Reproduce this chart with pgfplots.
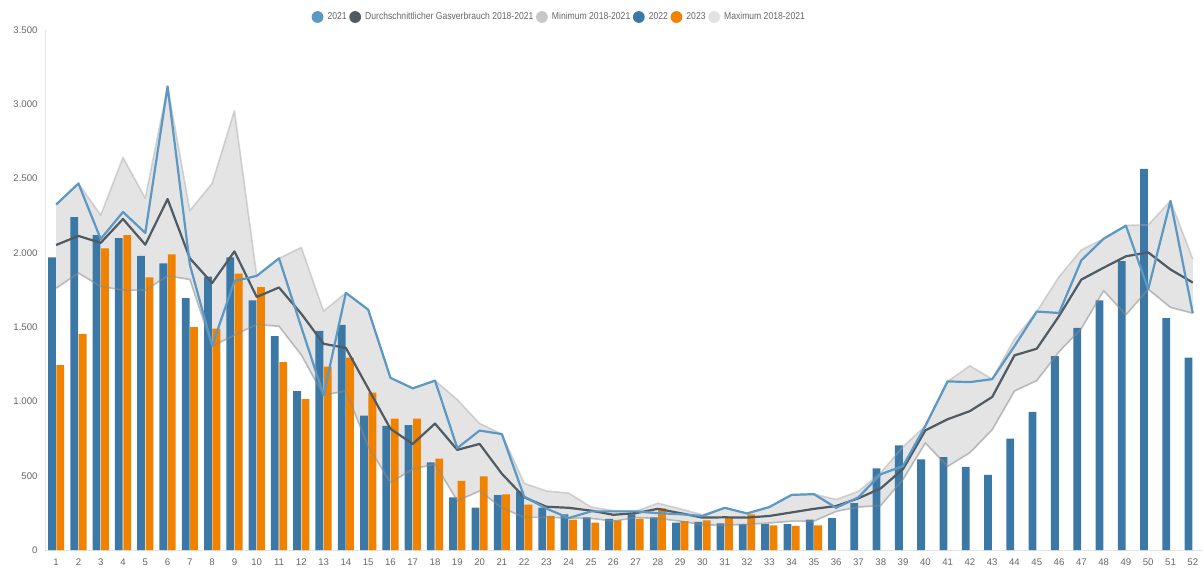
\documentclass[border=0pt]{standalone}
\usepackage{pgfplots}
\pgfplotsset{compat=1.18}
\usepackage{pgfplotstable}
\usepackage{fontspec}
\setmainfont{Liberation Sans}
\newfontfamily\narrowfont[FakeStretch=0.86]{Liberation Sans}
\definecolor{cBlue}{HTML}{3C78A6}
\definecolor{cOrange}{HTML}{F08200}
\definecolor{cLine21}{HTML}{5B98C4}
\definecolor{cAvg}{HTML}{4F5A62}
\definecolor{cMin}{HTML}{C8C8C8}
\definecolor{cMax}{HTML}{E2E2E2}
\definecolor{cArea}{HTML}{E4E4E4}
\definecolor{cText}{HTML}{666666}

\pgfplotstableread{
w b22 b23 l21 avg mn mx
1 1970 1245 2325 2053 1762 2325
2 2240 1455 2467 2114 1864 2467
3 2120 2030 2093 2067 1774 2254
4 2100 2120 2275 2228 1750 2642
5 1980 1835 2134 2055 1748 2368
6 1930 1990 3120 2362 1845 3120
7 1695 1500 1920 1963 1821 2284
8 1840 1490 1375 1797 1372 2468
9 1970 1860 1810 2010 1447 2957
10 1680 1770 1845 1703 1518 1845
11 1440 1265 1963 1767 1506 1963
12 1070 1015 1500 1590 1313 2036
13 1475 1235 1042 1388 1042 1608
14 1515 1295 1731 1360 1071 1731
15 905 1060 1618 1088 698 1618
16 835 885 1159 816 454 1159
17 840 885 1088 714 544 1088
18 590 615 1140 851 579 1140
19 355 465 686 674 331 1012
20 285 495 804 714 397 851
21 370 375 780 513 284 780
22 395 305 359 355 220 449
23 285 230 279 291 220 397
24 240 205 215 284 215 383
25 220 185 260 265 213 289
26 210 200 260 237 194 265
27 240 210 260 248 218 260
28 220 280 248 277 213 315
29 185 195 241 248 194 277
30 190 200 229 218 170 237
31 180 220 284 220 166 284
32 175 240 246 218 173 246
33 175 165 289 229 182 289
34 175 163 371 253 194 371
35 205 165 376 277 194 376
36 215 nan 284 296 260 340
37 315 nan 355 348 289 395
38 550 nan 510 415 300 520
39 705 nan 565 545 475 695
40 610 nan 835 805 720 835
41 625 nan 1135 880 563 1135
42 560 nan 1130 935 655 1240
43 505 nan 1150 1030 810 1150
44 750 nan 1372 1310 1070 1420
45 930 nan 1605 1355 1140 1605
46 1305 nan 1595 1575 1335 1840
47 1495 nan 1950 1820 1490 2020
48 1680 nan 2095 1900 1745 2095
49 1945 nan 2183 1977 1583 2185
50 2565 nan 1755 2003 1755 2188
51 1560 nan 2350 1888 1633 2350
52 1295 nan 1594 1800 1594 1958
}\gasdata

% band between minimum and maximum: maximum forwards, minimum backwards
\pgfplotstableread{
x y
1 2325
2 2467
3 2254
4 2642
5 2368
6 3120
7 2284
8 2468
9 2957
10 1845
11 1963
12 2036
13 1608
14 1731
15 1618
16 1159
17 1088
18 1140
19 1012
20 851
21 780
22 449
23 397
24 383
25 289
26 265
27 260
28 315
29 277
30 237
31 284
32 246
33 289
34 371
35 376
36 340
37 395
38 520
39 695
40 835
41 1135
42 1240
43 1150
44 1420
45 1605
46 1840
47 2020
48 2095
49 2185
50 2188
51 2350
52 1958
52 1594
51 1633
50 1755
49 1583
48 1745
47 1490
46 1335
45 1140
44 1070
43 810
42 655
41 563
40 720
39 475
38 300
37 289
36 260
35 194
34 194
33 182
32 173
31 166
30 170
29 194
28 213
27 218
26 194
25 213
24 215
23 220
22 220
21 284
20 397
19 331
18 579
17 544
16 454
15 698
14 1071
13 1042
12 1313
11 1506
10 1518
9 1447
8 1372
7 1821
6 1845
5 1748
4 1750
3 1774
2 1864
1 1762
}\banddata

\begin{document}
\begin{tikzpicture}
\path[use as bounding box] (0,0) rectangle (1203pt,571pt);
\begin{axis}[
  at={(45pt,21pt)}, anchor=south west,
  width=1159pt, height=520pt, scale only axis,
  xmin=0.5, xmax=52.5, ymin=0, ymax=3500,
  xtick={1,...,52}, ytick={0,500,...,3500},
  axis x line=bottom, axis y line=left,
  axis line style={-, draw=black!10, line width=0.8pt},
  major tick length=0pt,
  tick label style={font=\fontsize{9.6}{11}\selectfont, text=cText},
  /pgf/number format/assume math mode=true,
  /pgf/number format/1000 sep={.},
  yticklabel style={xshift=-4pt},
  xticklabel style={yshift=-5pt},
  legend columns=6,
  legend style={draw=none, fill=none, at={(0.444,1.025)}, anchor=center,
    font=\narrowfont\fontsize{10}{12}\selectfont, text=cText,
    /tikz/every even column/.append style={column sep=0pt},
    /tikz/every odd column/.append style={column sep=1.5pt},
    nodes={inner xsep=2.6pt}},
  legend image code/.code={\fill[#1, draw=none] (5.9pt,0pt) circle (5.9pt);},
]
\addplot[fill=cArea, draw=none, forget plot] table[x=x,y=y]{\banddata} -- cycle;

\addplot[ybar, bar width=7.8pt, bar shift=-4.2pt, fill=cBlue, draw=none, forget plot] table[x=w,y=b22]{\gasdata};
\addplot[ybar, bar width=7.8pt, bar shift=4.2pt, fill=cOrange, draw=none, forget plot] table[x=w,y=b23]{\gasdata};

\addplot[draw=black!35, draw opacity=0.45, line width=1.6pt, line join=round, forget plot] table[x=w,y=mx]{\gasdata};
\addplot[draw=black!45, draw opacity=0.55, line width=1.6pt, line join=round, forget plot] table[x=w,y=mn]{\gasdata};
\addplot[draw=cAvg, line width=2.2pt, line join=round, forget plot] table[x=w,y=avg]{\gasdata};
\addplot[draw=cLine21, line width=2.2pt, line join=round, forget plot] table[x=w,y=l21]{\gasdata};

\addlegendimage{fill=cLine21, draw=none}
\addlegendentry{2021}
\addlegendimage{fill=cAvg, draw=none}
\addlegendentry{Durchschnittlicher Gasverbrauch 2018-2021}
\addlegendimage{fill=cMin, draw=none}
\addlegendentry{Minimum 2018-2021}
\addlegendimage{fill=cBlue, draw=none}
\addlegendentry{2022}
\addlegendimage{fill=cOrange, draw=none}
\addlegendentry{2023}
\addlegendimage{fill=cMax, draw=none}
\addlegendentry{Maximum 2018-2021}
\end{axis}
\end{tikzpicture}
\end{document}
